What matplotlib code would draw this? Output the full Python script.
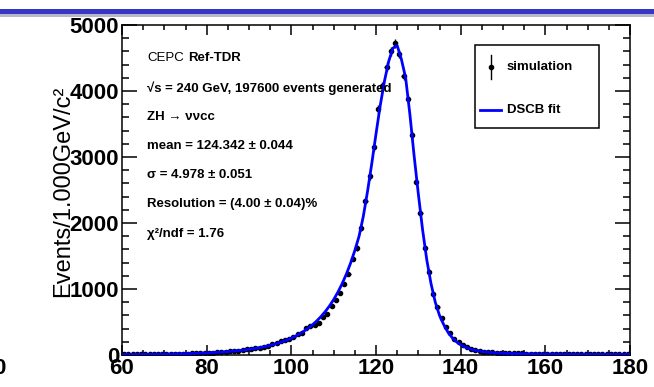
import numpy as np
import matplotlib
matplotlib.use("Agg")
import matplotlib.pyplot as plt
from matplotlib.patches import Rectangle
from matplotlib.lines import Line2D
from matplotlib.ticker import MultipleLocator

# histogram: 1 GeV bins from 60 to 180
bin_lo = 60
bin_width = 1.0
counts = [
    8, 10, 9, 11, 12, 11, 13, 14, 13, 15, 16, 15, 18, 19, 20, 22, 24, 25, 28, 30,
    32, 35, 38, 42, 48, 54, 58, 66, 72, 84, 90, 100, 112, 122, 138, 160, 176, 205, 222, 250,
    268, 312, 340, 402, 432, 450, 490, 572, 622, 738, 840, 940, 1080, 1230, 1460, 1620, 1925, 2330, 2710, 3150,
    3720, 4080, 4370, 4600, 4720, 4560, 4230, 3880, 3330, 2620, 2150, 1620, 1260, 920, 730, 560, 420, 330, 240, 190,
    150, 118, 96, 78, 62, 52, 46, 40, 36, 32, 30, 28, 26, 25, 23, 22, 22, 20, 21, 19,
    20, 18, 19, 17, 18, 16, 17, 16, 15, 16, 14, 15, 14, 13, 14, 13, 12, 13, 12, 11,
]

# DSCB fit, at every GeV from 60 to 180
fit_mass = list(range(60, 181))
fit_vals = [
    6, 7, 7, 8, 9, 9, 10, 11, 12, 13, 14, 15, 16, 18, 19, 21, 23, 25, 27, 30,
    32, 35, 39, 43, 47, 52, 57, 63, 70, 77, 86, 95, 106, 118, 131, 146, 163, 182, 204, 228,
    256, 287, 322, 362, 407, 458, 516, 582, 657, 742, 840, 952, 1080, 1226, 1393, 1584, 1800, 2100, 2480, 2900,
    3350, 3780, 4150, 4450, 4650, 4690, 4480, 4200, 3650, 3020, 2440, 1900, 1440, 1080, 800, 600, 460, 345, 262, 200,
    155, 122, 97, 78, 64, 53, 45, 39, 34, 30, 27, 25, 23, 21, 20, 19, 18, 17, 16, 15,
    15, 14, 14, 13, 13, 12, 12, 12, 11, 11, 11, 10, 10, 10, 9, 9, 9, 9, 8, 8, 8,
]

info_lines = [
    "√s = 240 GeV, 197600 events generated",
    "ZH → ννcc",
    "mean = 124.342 ± 0.044",
    "σ = 4.978 ± 0.051",
    "Resolution = (4.00 ± 0.04)%",
    "χ²/ndf = 1.76",
]

W, H = 654, 387
plt.rcParams["font.family"] = ["Liberation Sans", "DejaVu Sans"]
plt.rcParams["font.weight"] = "bold"


def px(x, y):
    # pixel position (from top-left) -> figure fraction
    return x / W, 1 - y / H


fig = plt.figure(figsize=(W / 100, H / 100), dpi=100)
ax = fig.add_axes([122 / W, 1 - 355 / H, (630 - 122) / W, (355 - 25) / H])

centers = bin_lo + bin_width * (np.arange(len(counts)) + 0.5)
counts = np.array(counts, dtype=float)
ax.errorbar(centers, counts, xerr=bin_width / 2, yerr=np.sqrt(counts),
            fmt="o", ms=3, color="black", elinewidth=1, capsize=0, zorder=2)
ax.plot(fit_mass, fit_vals, color="#0000ff", lw=2, zorder=3)

ax.set_xlim(60, 180)
ax.set_ylim(0, 5000)
ax.xaxis.set_major_locator(MultipleLocator(20))
ax.xaxis.set_minor_locator(MultipleLocator(5))
ax.yaxis.set_major_locator(MultipleLocator(1000))
ax.yaxis.set_minor_locator(MultipleLocator(200))
ax.tick_params(which="both", direction="in", top=True, right=True, width=1.1)
ax.tick_params(axis="x", which="major", length=7, labelsize=16, pad=2)
ax.tick_params(axis="x", which="minor", length=3.5)
ax.tick_params(axis="y", which="major", length=11, labelsize=16, pad=2)
ax.tick_params(axis="y", which="minor", length=5)
for s in ax.spines.values():
    s.set_linewidth(1.1)

fig.text(*px(63, 86), "Events/1.000GeV/c²", rotation=90, ha="center", va="top",
         fontsize=17, fontweight="normal")

# info text
fig.text(*px(147, 58), "CEPC", fontsize=9.5, fontweight="normal", va="center")
fig.text(*px(188, 58), "Ref-TDR", fontsize=9.5, va="center")
ys = [88, 117, 146, 175, 204, 234]
for y, line in zip(ys, info_lines):
    fig.text(*px(147, y), line, fontsize=9.5, va="center")

# legend box
x0, y0 = px(475, 128)
x1, y1 = px(599, 45)
fig.patches.append(Rectangle((x0, y0), x1 - x0, y1 - y0, transform=fig.transFigure,
                             fill=False, edgecolor="black", lw=1.1, zorder=5))
xa, ya = px(491, 55)
xb, yb = px(491, 79)
fig.lines.append(Line2D([xa, xb], [ya, yb], transform=fig.transFigure, color="black", lw=1))
xm, ym = px(491, 67)
fig.lines.append(Line2D([xm], [ym], transform=fig.transFigure, marker="o", ms=3, color="black"))
fig.text(*px(507, 67), "simulation", fontsize=9.5, va="center")
xa, ya = px(480, 110)
xb, yb = px(501, 110)
fig.lines.append(Line2D([xa, xb], [ya, yb], transform=fig.transFigure, color="#0000ff", lw=2))
fig.text(*px(507, 110), "DSCB fit", fontsize=9.5, va="center")

# slide header band
bx, by = px(0, 14)
fig.patches.append(Rectangle((bx, by), 1, 5 / H, transform=fig.transFigure,
                             color="#3636c6", lw=0))
bx, by = px(0, 17)
fig.patches.append(Rectangle((bx, by), 1, 3 / H, transform=fig.transFigure,
                             color="#b8b8c8", lw=0))

# stray label from the neighbouring plot
fig.text(*px(5, 369), "0", fontsize=16, ha="right", va="center")

fig.savefig("out.png", dpi=100)
